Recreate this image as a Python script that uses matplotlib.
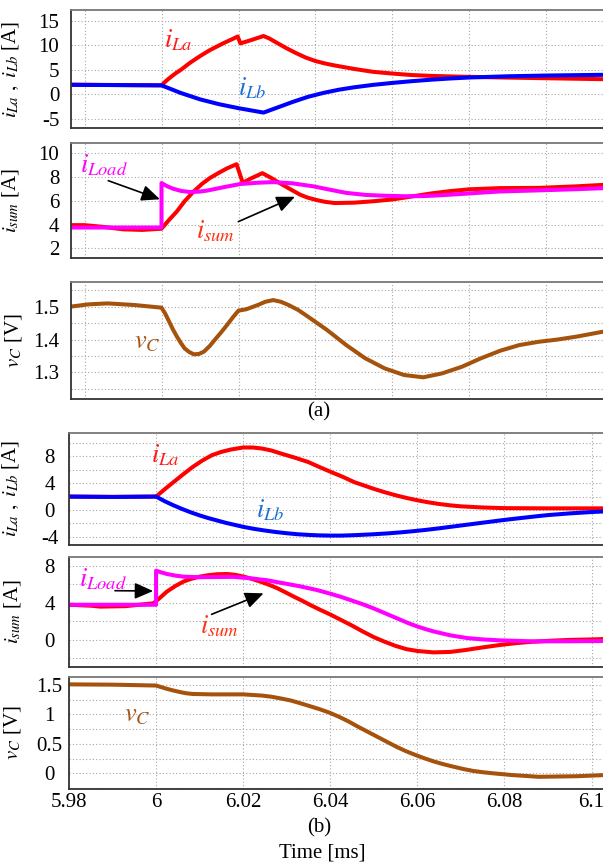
import matplotlib
matplotlib.use("Agg")
import matplotlib.pyplot as plt
from matplotlib.ticker import MultipleLocator

plt.rcParams["font.family"] = ["Liberation Serif", "DejaVu Serif"]
plt.rcParams["mathtext.fontset"] = "stix"
plt.rcParams["axes.unicode_minus"] = False

# ---------------- case (a) ----------------
t_iLa_a = [5.9764, 5.99, 6.0, 6.00125, 6.0025, 6.00375, 6.005, 6.00625, 6.0075, 6.00875,
           6.01, 6.01125, 6.0125, 6.01375, 6.015, 6.01625, 6.0175, 6.01875, 6.0198,
           6.0205, 6.023, 6.0265, 6.028, 6.03, 6.0325, 6.035, 6.0375, 6.04, 6.0425,
           6.045, 6.0475, 6.05, 6.055, 6.06, 6.065, 6.07, 6.075, 6.08, 6.09, 6.1, 6.1152]
iLa_a = [2.0, 1.9, 1.85, 2.8, 3.6, 4.35, 5.0, 5.75, 6.5, 7.15,
         7.8, 8.4, 9.0, 9.5, 10.0, 10.5, 10.95, 11.4, 11.8,
         10.4, 11.0, 11.9, 11.4, 10.5, 9.4, 8.4, 7.5, 6.8, 6.3,
         5.9, 5.55, 5.2, 4.6, 4.25, 3.95, 3.78, 3.67, 3.58, 3.43, 3.3, 3.1]

t_iLb_a = [5.9764, 5.99, 6.0, 6.005, 6.01, 6.015, 6.02, 6.0265, 6.03, 6.034, 6.038,
           6.042, 6.046, 6.05, 6.055, 6.06, 6.065, 6.07, 6.075, 6.08, 6.09, 6.1, 6.1152]
iLb_a = [1.95, 1.9, 1.85, 0.3, -1.0, -2.0, -2.8, -3.7, -2.7, -1.55, -0.5,
         0.3, 0.95, 1.45, 1.95, 2.35, 2.7, 3.0, 3.25, 3.45, 3.7, 3.85, 4.0]

t_isum_a = [5.9764, 5.98, 5.985, 5.99, 5.995, 6.0, 6.002, 6.004, 6.006, 6.0083, 6.0105,
            6.0126, 6.015, 6.017, 6.0195, 6.0211, 6.0235, 6.0262, 6.0285, 6.0308, 6.0335,
            6.036, 6.038, 6.0403, 6.0425, 6.045, 6.05, 6.055, 6.06, 6.065, 6.07, 6.075,
            6.08, 6.088, 6.098, 6.108, 6.1152]
isum_a = [3.95, 3.95, 3.8, 3.6, 3.55, 3.65, 4.4, 5.1, 5.95, 6.75, 7.4,
          7.9, 8.35, 8.7, 9.05, 7.5, 7.9, 8.3, 7.9, 7.45, 6.95,
          6.5, 6.25, 6.05, 5.9, 5.8, 5.83, 5.95, 6.1, 6.35, 6.6, 6.8,
          6.95, 7.05, 7.07, 7.2, 7.33]

t_iload_a = [5.9764, 5.99, 6.0, 6.0, 6.0015, 6.003, 6.005, 6.0074, 6.01, 6.012, 6.0165,
             6.0204, 6.025, 6.029, 6.034, 6.0394, 6.044, 6.048, 6.053, 6.058, 6.063,
             6.068, 6.073, 6.078, 6.083, 6.088, 6.098, 6.108, 6.1152]
iload_a = [3.75, 3.75, 3.75, 7.47, 7.2, 7.0, 6.82, 6.72, 6.76, 6.85, 7.15,
           7.39, 7.5, 7.55, 7.45, 7.2, 6.9, 6.65, 6.48, 6.41, 6.37,
           6.38, 6.46, 6.56, 6.67, 6.77, 6.86, 6.96, 7.05]

t_vc_a = [5.9763, 5.981, 5.986, 5.993, 6.0, 6.001, 6.002, 6.003, 6.004, 6.005, 6.006,
          6.0072, 6.0084, 6.0097, 6.011, 6.0125, 6.0139, 6.0155, 6.017, 6.0185, 6.02,
          6.022, 6.025, 6.027, 6.029, 6.031, 6.033, 6.0355, 6.038, 6.043, 6.048,
          6.0529, 6.058, 6.063, 6.068, 6.0729, 6.078, 6.083, 6.088, 6.0929, 6.0979,
          6.1029, 6.1079, 6.1152]
vc_a = [1.50, 1.507, 1.51, 1.505, 1.497, 1.478, 1.454, 1.43, 1.409, 1.39, 1.373,
        1.362, 1.355, 1.356, 1.363, 1.38, 1.40, 1.422, 1.444, 1.467, 1.488,
        1.492, 1.505, 1.515, 1.52, 1.515, 1.505, 1.49, 1.47, 1.429, 1.383,
        1.343, 1.312, 1.292, 1.285, 1.297, 1.317, 1.343, 1.366, 1.383, 1.393,
        1.40, 1.409, 1.425]

# ---------------- case (b) ----------------
t_iLa_b = [5.98, 5.99, 6.0, 6.002, 6.004, 6.0062, 6.0084, 6.0106, 6.0128, 6.015, 6.0172,
           6.02, 6.0222, 6.0243, 6.0265, 6.0287, 6.0318, 6.0349, 6.0375, 6.0402, 6.043,
           6.0455, 6.048, 6.05, 6.0525, 6.055, 6.0575, 6.06, 6.0625, 6.065, 6.0675,
           6.07, 6.075, 6.08, 6.09, 6.1, 6.1031]
iLa_b = [2.0, 1.95, 2.0, 3.1, 4.15, 5.3, 6.4, 7.35, 8.15, 8.65, 9.0,
         9.3, 9.3, 9.15, 8.85, 8.4, 7.8, 7.15, 6.4, 5.65, 4.9,
         4.15, 3.6, 3.15, 2.65, 2.2, 1.8, 1.45, 1.15, 0.9, 0.7,
         0.55, 0.38, 0.28, 0.25, 0.25, 0.25]

t_iLb_b = [5.98, 5.99, 6.0, 6.002, 6.004, 6.006, 6.008, 6.01, 6.012, 6.014, 6.016, 6.018,
           6.02, 6.0225, 6.025, 6.0275, 6.03, 6.0325, 6.035, 6.0375, 6.04, 6.0425, 6.045,
           6.0475, 6.05, 6.053, 6.056, 6.059, 6.062, 6.065, 6.0676, 6.07, 6.073, 6.076,
           6.079, 6.082, 6.085, 6.0875, 6.09, 6.095, 6.1, 6.1031]
iLb_b = [2.0, 1.95, 2.0, 1.3, 0.7, 0.15, -0.35, -0.8, -1.2, -1.55, -1.9, -2.2,
         -2.5, -2.8, -3.05, -3.27, -3.45, -3.6, -3.7, -3.77, -3.8, -3.8, -3.75,
         -3.68, -3.6, -3.48, -3.33, -3.15, -2.95, -2.72, -2.5, -2.3, -2.05, -1.8,
         -1.55, -1.32, -1.1, -0.92, -0.75, -0.5, -0.3, -0.2]

t_isum_b = [5.98, 5.985, 5.9872, 5.993, 5.9994, 6.001, 6.0025, 6.0045, 6.0063, 6.008,
            6.0101, 6.012, 6.014, 6.0163, 6.018, 6.0201, 6.022, 6.0239, 6.026, 6.0278,
            6.0297, 6.0316, 6.0335, 6.0354, 6.0377, 6.04, 6.0425, 6.045, 6.0475, 6.05,
            6.0525, 6.055, 6.0575, 6.06, 6.0637, 6.0676, 6.071, 6.0752, 6.079, 6.0829,
            6.0865, 6.0905, 6.095, 6.1, 6.1031]
isum_b = [3.8, 3.7, 3.6, 3.65, 3.96, 4.6, 5.23, 5.85, 6.31, 6.6,
          6.85, 7.0, 7.1, 7.13, 7.05, 6.85, 6.6, 6.31, 5.95, 5.6,
          5.15, 4.69, 4.25, 3.78, 3.25, 2.75, 2.15, 1.55, 0.9, 0.3,
          -0.2, -0.65, -1.0, -1.2, -1.35, -1.3, -1.1, -0.8, -0.55, -0.34,
          -0.2, -0.09, 0.0, 0.05, 0.1]

t_iload_b = [5.98, 5.99, 6.0, 6.0, 6.0012, 6.0025, 6.0045, 6.0063, 6.0101, 6.014, 6.0177,
             6.0216, 6.0255, 6.0292, 6.033, 6.0369, 6.04, 6.0425, 6.045, 6.0475, 6.05,
             6.053, 6.056, 6.058, 6.06, 6.062, 6.0637, 6.0675, 6.0714, 6.075, 6.079,
             6.0867, 6.095, 6.1031]
iload_b = [3.8, 3.8, 3.8, 7.49, 7.3, 7.13, 6.95, 6.84, 6.78, 6.8, 6.82,
           6.67, 6.45, 6.13, 5.8, 5.4, 5.0, 4.65, 4.25, 3.85, 3.4,
           2.8, 2.2, 1.8, 1.45, 1.15, 0.92, 0.5, 0.2, 0.05, -0.05,
           -0.16, -0.15, -0.12]

t_vc_b = [5.98, 5.99, 6.0, 6.0011, 6.0022, 6.004, 6.0057, 6.007, 6.0084, 6.0128, 6.02,
          6.0243, 6.0265, 6.0287, 6.031, 6.0331, 6.0353, 6.0375, 6.0398, 6.042, 6.0442,
          6.0464, 6.0486, 6.0508, 6.053, 6.0552, 6.0574, 6.0596, 6.0618, 6.064, 6.0662,
          6.0684, 6.0706, 6.0728, 6.075, 6.0773, 6.0817, 6.0879, 6.0967, 6.1031]
vc_b = [1.51, 1.505, 1.49, 1.465, 1.44, 1.405, 1.376, 1.358, 1.347, 1.34, 1.34,
        1.32, 1.30, 1.27, 1.235, 1.19, 1.14, 1.09, 1.03, 0.96, 0.88,
        0.79, 0.705, 0.62, 0.535, 0.45, 0.375, 0.31, 0.25, 0.196, 0.15,
        0.11, 0.072, 0.04, 0.018, 0.0, -0.03, -0.06, -0.05, -0.03]

x_ticks_b = [5.98, 6.0, 6.02, 6.04, 6.06, 6.08, 6.1]
x_ticklabels_b = ["5.98", "6", "6.02", "6.04", "6.06", "6.08", "6.1"]

# ---------------- styling ----------------
RED, BLUE, MAG, BROWN = "#ff0000", "#0000ff", "#ff00ff", "#a5520c"
LW = 2.9
FS = 15
AFS = 19
W, H = 603, 863

fig = plt.figure(figsize=(6.03, 8.63), dpi=100)


def make_axes(left, top, bottom, right=605):
    return fig.add_axes([left / W, 1 - bottom / H, (right - left) / W, (bottom - top) / H])


def style(ax, xlim, ylim, yticks, ylabels, yminor, pad, center=False):
    ax.set_xlim(*xlim)
    ax.set_ylim(*ylim)
    ax.xaxis.set_major_locator(MultipleLocator(0.02))
    ax.set_yticks(yticks)
    ax.set_yticklabels(ylabels)
    ax.yaxis.set_minor_locator(MultipleLocator(yminor))
    ax.grid(True, which="both", color="#a8a8a8", linestyle=(0, (1, 2)), linewidth=0.8)
    ax.tick_params(axis="both", which="both", length=0, labelsize=FS, pad=pad)
    ax.tick_params(axis="x", labelbottom=False)
    for s in ax.spines.values():
        s.set_color("#333333")
        s.set_linewidth(1.3)
    ax.spines["top"].set_color("#777777")
    if center:
        for lbl in ax.get_yticklabels():
            lbl.set_horizontalalignment("center")


def label_y(ax, text, x_px, left_px):
    width = 605 - left_px
    ax.set_ylabel(text, fontsize=FS)
    ax.yaxis.set_label_coords((x_px - left_px) / width, 0.5)


def note(ax, x, y, text, color):
    ax.text(x, y, text, color=color, fontsize=AFS, ha="center", va="center",
            transform=ax.transAxes)


def arrow(ax, tail, head):
    ax.annotate("", xy=head, xytext=tail, xycoords="axes fraction", textcoords="axes fraction",
                arrowprops=dict(arrowstyle="-|>,head_length=0.8,head_width=0.35",
                                mutation_scale=14, color="black", lw=1.2,
                                shrinkA=0, shrinkB=0))


xlim_a = (5.97636, 6.1152)
xlim_b = (5.98, 6.1031)
LA, LB = 70.5, 69.0

# (a) inductor currents
ax1 = make_axes(LA, 10, 128.3)
ax1.plot(t_iLa_a, iLa_a, color=RED, lw=LW)
ax1.plot(t_iLb_a, iLb_a, color=BLUE, lw=LW)
style(ax1, xlim_a, (-6.9, 17.2), [15, 10, 5, 0, -5], ["15", "10", "5", "0", "-5"], 5, 8)
label_y(ax1, r"$i_{La}\ ,\ i_{Lb}$ [A]", 21, LA)
note(ax1, 0.201, 0.746, r"$i_{La}$", "#ff1a1a")
note(ax1, 0.340, 0.341, r"$i_{Lb}$", "#1c6fd6")

# (a) summed and load current
ax2 = make_axes(LA, 143.3, 258)
ax2.plot(t_isum_a, isum_a, color=RED, lw=LW)
ax2.plot(t_iload_a, iload_a, color=MAG, lw=LW)
style(ax2, xlim_a, (1.2, 10.8), [10, 8, 6, 4, 2], ["10", "8", "6", "4", "2"], 2, 8)
label_y(ax2, r"$i_{sum}$ [A]", 21, LA)
note(ax2, 0.063, 0.811, r"$i_{Load}$", MAG)
arrow(ax2, (0.0707, 0.674), (0.1674, 0.512))
note(ax2, 0.272, 0.235, r"$i_{sum}$", "#ff3014")
arrow(ax2, (0.314, 0.317), (0.42, 0.534))

# (a) capacitor voltage
ax3 = make_axes(LA, 281.7, 399)
ax3.plot(t_vc_a, vc_a, color=BROWN, lw=LW)
style(ax3, xlim_a, (1.219, 1.576), [1.5, 1.4, 1.3], ["1.5", "1.4", "1.3"], 0.05, 8)
label_y(ax3, r"$v_C$ [V]", 24, LA)
note(ax3, 0.143, 0.477, r"$v_C$", "#a65514")
fig.text(319 / W, 1 - 412 / H, "(a)", fontsize=FS, ha="center", va="center")

# (b) inductor currents
ax4 = make_axes(LB, 432.7, 545)
ax4.plot(t_iLa_b, iLa_b, color=RED, lw=LW)
ax4.plot(t_iLb_b, iLb_b, color=BLUE, lw=LW)
style(ax4, xlim_b, (-5.2, 11.5), [8, 4, 0, -4], ["8", "4", "0", "-4"], 2, 14, center=True)
label_y(ax4, r"$i_{La}\ ,\ i_{Lb}$ [A]", 21, LB)
note(ax4, 0.179, 0.801, r"$i_{La}$", "#ff1a1a")
note(ax4, 0.375, 0.312, r"$i_{Lb}$", "#1c6fd6")

# (b) summed and load current
ax5 = make_axes(LB, 556.7, 666.7)
ax5.plot(t_isum_b, isum_b, color=RED, lw=LW)
ax5.plot(t_iload_b, iload_b, color=MAG, lw=LW)
style(ax5, xlim_b, (-2.9, 9.0), [8, 4, 0], ["8", "4", "0"], 2, 14, center=True)
label_y(ax5, r"$i_{sum}$ [A]", 23, LB)
note(ax5, 0.0634, 0.797, r"$i_{Load}$", MAG)
arrow(ax5, (0.0858, 0.691), (0.157, 0.688))
note(ax5, 0.28, 0.37, r"$i_{sum}$", "#ff3014")
arrow(ax5, (0.266, 0.476), (0.363, 0.667))

# (b) capacitor voltage
ax6 = make_axes(LB, 677.3, 789)
ax6.plot(t_vc_b, vc_b, color=BROWN, lw=LW)
style(ax6, xlim_b, (-0.267, 1.63), [1.5, 1.0, 0.5, 0.0], ["1.5", "1", "0.5", "0"], 0.25, 14,
      center=True)
ax6.set_xticks(x_ticks_b)
ax6.set_xticklabels(x_ticklabels_b)
ax6.tick_params(axis="x", labelbottom=True, pad=3)
label_y(ax6, r"$v_C$ [V]", 23, LB)
note(ax6, 0.127, 0.654, r"$v_C$", "#a65514")
fig.text(319 / W, 1 - 828 / H, "(b)", fontsize=FS, ha="center", va="center")
fig.text(322 / W, 1 - 853 / H, "Time [ms]", fontsize=FS, ha="center", va="center")

fig.savefig("out.png", dpi=100)
